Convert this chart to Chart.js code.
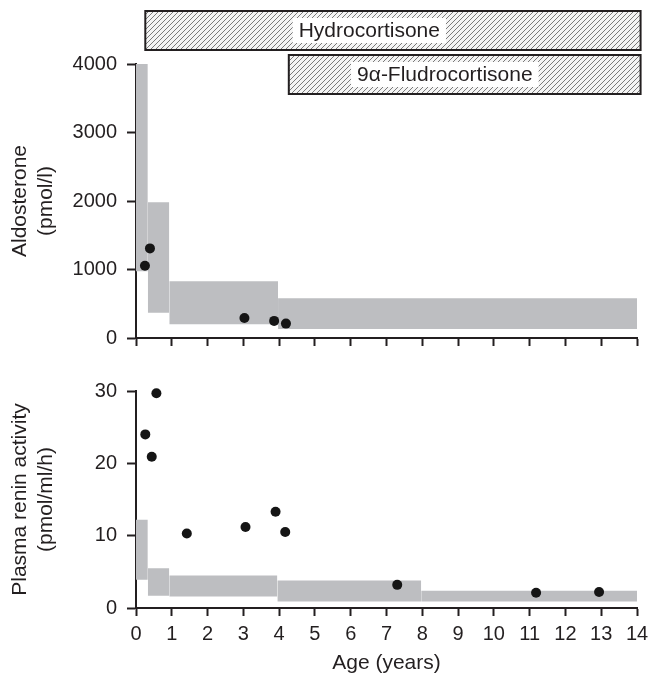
<!DOCTYPE html>
<html>
<head>
<meta charset="utf-8">
<script src="https://cdn.jsdelivr.net/npm/chart.js@4/dist/chart.umd.min.js"></script>
<style>
  html, body { margin: 0; padding: 0; background: #fff; }
  #wrap { position: relative; width: 649px; height: 679px; }
  canvas { position: absolute; left: 0; }
  #aldoChart { top: 0; }
  #reninChart { top: 360px; }
</style>
</head>
<body>
<div id="wrap">
  <canvas id="aldoChart" width="649" height="360"></canvas>
  <canvas id="reninChart" width="649" height="319"></canvas>
</div>
<script>
// --- data ---
const ageTicks = [0, 1, 2, 3, 4, 5, 6, 7, 8, 9, 10, 11, 12, 13, 14];

// aldosterone reference ranges (pmol/l) by age band
const aldoEdges = [0, 0.33, 0.93, 3.97, 14];
const aldoLow = [975, 370, 200, 130];
const aldoHigh = [4000, 1980, 830, 580];
// patient values
const aldoAges = [0.25, 0.39, 3.03, 3.86, 4.19];
const aldoValues = [1056, 1308, 291, 250, 210];

// plasma renin activity reference ranges (pmol/ml/h)
const reninEdges = [0, 0.33, 0.93, 3.95, 7.97, 14];
const reninLow = [3.9, 1.7, 1.6, 0.9, 0.9];
const reninHigh = [12.2, 5.5, 4.5, 3.8, 2.4];
const reninAges = [0.26, 0.44, 0.57, 1.42, 3.06, 3.90, 4.17, 7.30, 11.18, 12.94];
const reninValues = [24.0, 20.9, 29.7, 10.3, 11.2, 13.3, 10.5, 3.2, 2.1, 2.2];

// treatment periods (years)
const treatments = ['Hydrocortisone', '9\u03B1-Fludrocortisone'];
const treatmentStart = [0.26, 4.27];
const treatmentEnd = [14.1, 14.1];

const FONT = '"Liberation Sans", Arial, Helvetica, sans-serif';
const INK = '#231f20';
const BAND = '#bdbec1';

Chart.defaults.font.family = FONT;
Chart.defaults.color = INK;

function bandDatasets(edges, low, high) {
    return low.map((lo, i) => ({
        data: [{ x: edges[i], y: high[i] }, { x: edges[i + 1], y: high[i] }],
        fill: { value: lo },
        backgroundColor: BAND,
        borderWidth: 0,
        pointRadius: 0,
        tension: 0
    }));
}

function pointDataset(ages, values) {
    return {
        data: ages.map((a, i) => ({ x: a, y: values[i] })),
        showLine: false,
        pointRadius: 5,
        pointBackgroundColor: '#151515',
        pointBorderWidth: 0,
        clip: false
    };
}

function axisX(showLabels, height) {
    return {
        type: 'linear',
        min: 0,
        max: 14,
        afterBuildTicks: s => { s.ticks = ageTicks.map(v => ({ value: v })); },
        grid: { drawOnChartArea: false, drawTicks: true, tickLength: 8, tickColor: INK, tickWidth: 2 },
        border: { color: INK, width: 2 },
        ticks: { display: showLabels, font: { size: 20 }, padding: 6, maxRotation: 0, autoSkip: false },
        title: {
            display: showLabels,
            text: 'Age (years)',
            font: { size: 21 },
            padding: { top: 0, bottom: 3 }
        },
        afterFit: s => {
            s.height = height;
            // keep the plot edges fixed, labels may overhang
            s.paddingLeft = 0;
            s.paddingRight = 0;
        }
    };
}

function axisY(max, step, titleLines) {
    return {
        min: 0,
        max: max,
        ticks: { stepSize: step, font: { size: 20 }, padding: 10, callback: v => String(v) },
        grid: { drawOnChartArea: false, drawTicks: true, tickLength: 9, tickColor: INK, tickWidth: 2 },
        border: { color: INK, width: 2 },
        title: {
            display: true,
            text: titleLines,
            font: { size: 21 },
            padding: { top: 8, bottom: 0 }
        },
        afterFit: s => { s.width = 136; }
    };
}

// hatched treatment bars above the aldosterone panel
function makeHatch(ctx) {
    const c = document.createElement('canvas');
    c.width = 5; c.height = 5;
    const g = c.getContext('2d');
    g.fillStyle = '#f4f4f4';
    g.fillRect(0, 0, 5, 5);
    g.strokeStyle = '#7a7a7a';
    g.lineWidth = 1;
    g.beginPath();
    g.moveTo(-1, 6); g.lineTo(6, -1);
    g.moveTo(-1, 1); g.lineTo(1, -1);
    g.moveTo(4, 6); g.lineTo(6, 4);
    g.stroke();
    return ctx.createPattern(c, 'repeat');
}

const treatmentPlugin = {
    id: 'treatments',
    afterDraw(chart) {
        const { ctx, chartArea } = chart;
        const x = chart.scales.x;
        const hatch = makeHatch(ctx);
        const labelAge = [6.52, 8.63]; // label centres
        ctx.save();
        ctx.font = '21px ' + FONT;
        treatments.forEach((name, i) => {
            const x0 = x.getPixelForValue(treatmentStart[i]);
            const x1 = x.getPixelForValue(treatmentEnd[i]);
            const top = chartArea.top - 53 + i * 44;
            const h = 39;
            ctx.fillStyle = hatch;
            ctx.fillRect(x0, top, x1 - x0, h);
            ctx.strokeStyle = INK;
            ctx.lineWidth = 2;
            ctx.strokeRect(x0, top, x1 - x0, h);
            const cx = x.getPixelForValue(labelAge[i]);
            const w = ctx.measureText(name).width + 12;
            ctx.fillStyle = '#fff';
            ctx.fillRect(cx - w / 2, top + 7, w, 25);
            ctx.fillStyle = INK;
            ctx.textAlign = 'center';
            ctx.textBaseline = 'middle';
            ctx.fillText(name, cx, top + 20);
        });
        ctx.restore();
    }
};

const common = {
    responsive: false,
    animation: false,
    plugins: { legend: { display: false }, tooltip: { enabled: false } }
};

document.addEventListener('DOMContentLoaded', function () {
    new Chart(document.getElementById('aldoChart'), {
        type: 'line',
        data: { datasets: [pointDataset(aldoAges, aldoValues)].concat(bandDatasets(aldoEdges, aldoLow, aldoHigh)) },
        options: Object.assign({}, common, {
            layout: { padding: { top: 64, right: 12, left: 0, bottom: 0 } },
            scales: {
                x: axisX(false, 18),
                y: axisY(4000, 1000, ['Aldosterone', '(pmol/l)'])
            }
        }),
        plugins: [treatmentPlugin]
    });

    new Chart(document.getElementById('reninChart'), {
        type: 'line',
        data: { datasets: [pointDataset(reninAges, reninValues)].concat(bandDatasets(reninEdges, reninLow, reninHigh)) },
        options: Object.assign({}, common, {
            layout: { padding: { top: 31, right: 12, left: 0, bottom: 0 } },
            scales: {
                x: axisX(true, 71),
                y: axisY(30, 10, ['Plasma renin activity', '(pmol/ml/h)'])
            }
        })
    });
});
</script>
</body>
</html>
